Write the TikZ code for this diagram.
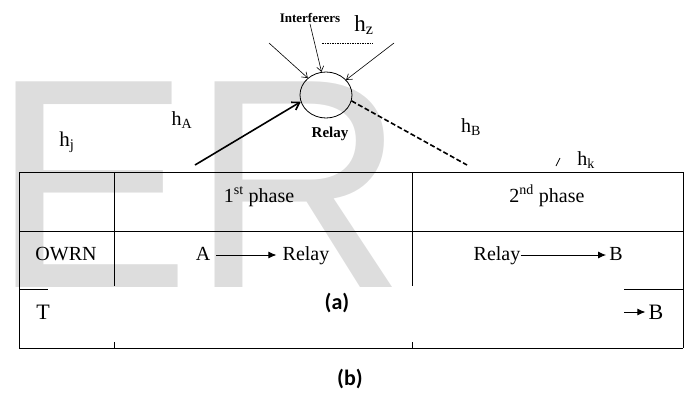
\documentclass[tikz,border=0pt]{standalone}
\usepackage{fontspec}
\setmainfont{Liberation Serif}
\newfontfamily\labelfont{Carlito}
\newfontfamily\markfont{Liberation Sans}
\usetikzlibrary{arrows.meta,shapes.geometric}
\definecolor{markgray}{RGB}{221,221,221}

\tikzset{
  cell/.style={font=\fontsize{20}{24}\selectfont, inner sep=0pt, anchor=base},
  chan/.style={font=\fontsize{20}{24}\selectfont, inner sep=0pt},
  grid/.style={line width=0.6pt},
  infarrow/.style={-{Straight Barb[length=5pt,width=7pt]}, line width=0.6pt},
  rowarrow/.style={-{Latex[length=8pt,width=7pt]}, line width=1pt},
}

\begin{document}
\begin{tikzpicture}[x=1pt,y=-1pt]
\useasboundingbox (0,0) rectangle (688,392);

% watermark
\node[anchor=base west, inner sep=0pt, text=markgray,
  font=\markfont\fontsize{299}{299}\selectfont] (mark) at (-9,287) {ER};

% relay and channels
\node[draw, ellipse, minimum width=52pt, minimum height=46pt, inner sep=0pt,
  line width=0.8pt] (relay) at (326,95) {};
\node[font=\bfseries\fontsize{15}{18}\selectfont] (relaylab) at (330,134) {Relay};
\node[font=\bfseries\fontsize{13}{15}\selectfont, inner sep=1pt] (interf) at (310,18) {Interferers};

\coordinate (ileft) at (269,43);
\coordinate (iright) at (394,43);
\coordinate (asrc) at (195,165);
\coordinate (bdst) at (467,165);

\draw[infarrow] (ileft) -- (relay.137);
\draw[infarrow] (interf.south) -- (relay.101);
\draw[infarrow] (iright) -- (relay.37);
\draw[-{Straight Barb[length=7pt,width=9pt]}, line width=1.6pt] (asrc) -- (relay.195);
\draw[line width=1.6pt, dash pattern=on 5pt off 2.5pt] (relay.-13) -- (bdst);

\node[chan, font=\fontsize{23}{26}\selectfont] (hz) at (364,25) {h\textsubscript{z}};
\draw[line width=0.5pt, dash pattern=on 1.5pt off 1pt] (322,43) -- (373,43);
\node[chan] (ha) at (182,120) {h\textsubscript{A}};
\node[chan, font=\fontsize{21}{24}\selectfont] (hj) at (67,142) {h\textsubscript{j}};
\node[chan] (hb) at (471,127) {h\textsubscript{B}};
\node[chan] (hk) at (586,160) {h\textsubscript{k}};
\draw[line width=0.7pt] (556,166) -- (560,158);

% table
\draw[grid] (19,172) -- (683,172);
\draw[grid] (19,231) -- (683,231);
\draw[grid] (19,172) -- (19,348);
\draw[grid] (114,172) -- (114,286);
\draw[grid] (412,172) -- (412,286);
\draw[grid] (683,172) -- (683,348);
\draw[grid] (19,289) -- (48,289);
\draw[grid] (624,289) -- (683,289);
\draw[grid] (19,348) -- (683,348);
\draw[grid] (114,342) -- (114,348);
\draw[grid] (412,342) -- (412,348);

\node[cell] (phase1) at (259,202) {1\textsuperscript{st} phase};
\node[cell] (phase2) at (547,202) {2\textsuperscript{nd} phase};
\node[cell] (owrn) at (66,260) {OWRN};
\node[cell] (srca) at (203,260) {A};
\node[cell] (rela) at (306,260) {Relay};
\draw[rowarrow, shorten <=6pt, shorten >=6pt] (srca.east |- 0,255) -- (rela.west |- 0,255);
\node[cell] (relb) at (497,260) {Relay};
\node[cell] (dstb) at (616,260) {B};
\draw[rowarrow, shorten >=3pt] (relb.east |- 0,255) -- (dstb.west |- 0,255);

\node[cell, font=\fontsize{22}{26}\selectfont] (trow) at (43,319) {T};
\node[cell, font=\fontsize{22}{26}\selectfont] (tdst) at (656,319) {B};
\coordinate (tsrc) at (624,312);
\draw[rowarrow, shorten >=3pt] (tsrc) -- (tdst.west |- tsrc);

% captions
\node[font=\labelfont\bfseries\fontsize{22}{26}\selectfont] (capa) at (337,303) {(a)};
\node[font=\labelfont\bfseries\fontsize{22}{26}\selectfont] (capb) at (350,379) {(b)};
\end{tikzpicture}
\end{document}
